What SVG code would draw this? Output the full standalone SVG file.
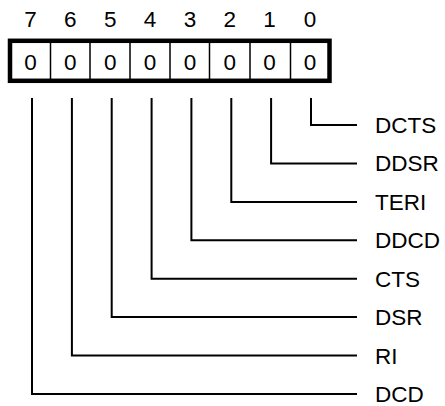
<svg xmlns="http://www.w3.org/2000/svg" width="445" height="406" viewBox="0 0 445 406">
<style>
text{font-family:"Liberation Sans",Arial,sans-serif;font-size:22.5px;fill:#000}
.n{text-anchor:middle}
.w{fill:none;stroke:#000;stroke-width:2}
.d{stroke:#000;stroke-width:1.5}
</style>
<rect width="445" height="406" fill="#fff"/>
<g id="register">
<rect x="10" y="40.8" width="319.5" height="40" fill="#fff" stroke="#000" stroke-width="4.5"/>
<line class="d" x1="50.5" y1="43" x2="50.5" y2="79"/>
<line class="d" x1="90" y1="43" x2="90" y2="79"/>
<line class="d" x1="130" y1="43" x2="130" y2="79"/>
<line class="d" x1="170" y1="43" x2="170" y2="79"/>
<line class="d" x1="209.5" y1="43" x2="209.5" y2="79"/>
<line class="d" x1="250" y1="43" x2="250" y2="79"/>
<line class="d" x1="290.5" y1="43" x2="290.5" y2="79"/>
<text class="n" x="30.5" y="69.5">0</text>
<text class="n" x="70.3" y="69.5">0</text>
<text class="n" x="110.2" y="69.5">0</text>
<text class="n" x="150" y="69.5">0</text>
<text class="n" x="189.9" y="69.5">0</text>
<text class="n" x="229.7" y="69.5">0</text>
<text class="n" x="269.6" y="69.5">0</text>
<text class="n" x="310" y="69.5">0</text>
</g>
<g id="bit-numbers">
<text class="n" x="30.5" y="26.7">7</text>
<text class="n" x="70.3" y="26.7">6</text>
<text class="n" x="110.2" y="26.7">5</text>
<text class="n" x="150" y="26.7">4</text>
<text class="n" x="189.9" y="26.7">3</text>
<text class="n" x="229.7" y="26.7">2</text>
<text class="n" x="269.6" y="26.7">1</text>
<text class="n" x="310" y="26.7">0</text>
</g>
<g id="connectors">
<polyline class="w" points="311,98 311,125 357,125"/>
<polyline class="w" points="271.1,98 271.1,163.4 357,163.4"/>
<polyline class="w" points="231.3,98 231.3,201.9 357,201.9"/>
<polyline class="w" points="191.4,98 191.4,240.3 357,240.3"/>
<polyline class="w" points="151.6,98 151.6,278.7 357,278.7"/>
<polyline class="w" points="111.7,98 111.7,317.1 357,317.1"/>
<polyline class="w" points="71.9,98 71.9,355.6 357,355.6"/>
<polyline class="w" points="32,98 32,394 357,394"/>
</g>
<g id="labels">
<text id="DCTS" x="375" y="133">DCTS</text>
<text id="DDSR" x="375" y="171.4">DDSR</text>
<text id="TERI" x="375" y="209.9">TERI</text>
<text id="DDCD" x="375" y="248.3">DDCD</text>
<text id="CTS" x="375" y="286.7">CTS</text>
<text id="DSR" x="375" y="325.1">DSR</text>
<text id="RI" x="375" y="363.6">RI</text>
<text id="DCD" x="375" y="402">DCD</text>
</g>
</svg>
